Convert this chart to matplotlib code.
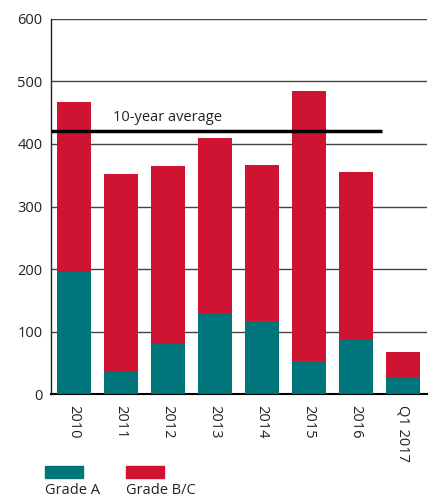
import matplotlib.pyplot as plt
from matplotlib.patches import Rectangle

plt.rcParams['font.family'] = ['Open Sans', 'DejaVu Sans']

periods = ['2010', '2011', '2012', '2013', '2014', '2015', '2016', 'Q1 2017']
grade_a = [196, 37, 80, 128, 117, 53, 88, 26]
grade_total = [467, 352, 365, 410, 366, 485, 355, 67]
grade_bc = [t - a for t, a in zip(grade_total, grade_a)]
avg_10yr = 421
series_names = ['Grade A', 'Grade B/C']
colors = ['#00767a', '#ce1432']

fig = plt.figure(figsize=(4.33, 4.97), dpi=100)
ax = fig.add_axes([0.1178, 0.2072, 0.8684, 0.7546])

x = range(len(periods))
ax.bar(x, grade_a, width=0.72, color=colors[0], zorder=3)
ax.bar(x, grade_bc, width=0.72, bottom=grade_a, color=colors[1], zorder=3)

# ten-year average marker
ax.plot([-0.5, 6.55], [avg_10yr, avg_10yr], color='black', lw=2.5, zorder=4,
        solid_capstyle='butt')
ax.text(0.83, avg_10yr + 9, '10-year average', fontsize=10.5, color='#222222',
        va='bottom', ha='left', zorder=5)

ax.set_ylim(0, 600)
ax.set_xlim(-0.49, 7.51)
ax.set_yticks(range(0, 601, 100))
ax.yaxis.grid(True, color='#444444', lw=1)
ax.set_axisbelow(True)
ax.set_xticks(list(x))
ax.set_xticklabels(periods, rotation=-90, va='top', ha='center')
ax.tick_params(axis='both', length=0, labelsize=10.5, labelcolor='#222222')
ax.tick_params(axis='x', pad=8)
ax.tick_params(axis='y', pad=6)

for side in ['top', 'right']:
    ax.spines[side].set_visible(False)
ax.spines['left'].set_color('#222222')
ax.spines['left'].set_linewidth(1)
ax.spines['bottom'].set_color('black')
ax.spines['bottom'].set_linewidth(1.5)

# legend below the chart: swatch on top, name underneath
W, H = 433, 497
for i, (name, c) in enumerate(zip(series_names, colors)):
    x0 = 45 + i * 81
    fig.add_artist(Rectangle((x0 / W, 1 - 478 / H), 38 / W, 12 / H,
                             transform=fig.transFigure, color=c))
    fig.text(x0 / W, 1 - 490 / H, name, fontsize=10.5, color='#222222',
             ha='left', va='center')

fig.savefig('out.png', dpi=100)
